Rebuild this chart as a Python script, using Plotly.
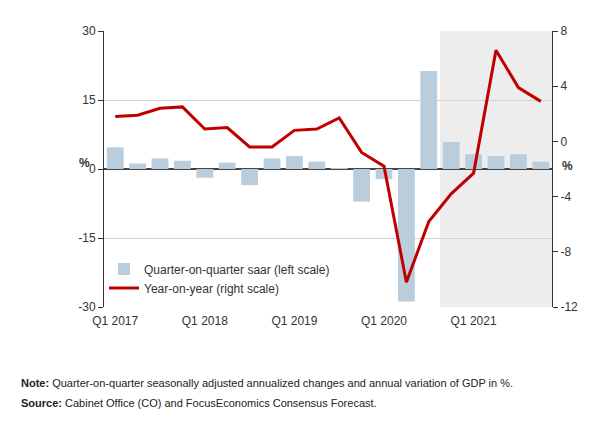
import plotly.graph_objects as go

quarters = [f"Q{q} {y}" for y in range(2017, 2022) for q in range(1, 5)]
qoq_saar = [4.7, 1.2, 2.3, 1.8, -1.9, 1.4, -3.5, 2.3, 2.8, 1.6,
            0.2, -7.1, -2.2, -28.8, 21.3, 5.9, 3.2, 2.8, 3.2, 1.6]
yoy = [1.8, 1.9, 2.4, 2.5, 0.9, 1.0, -0.4, -0.4, 0.8, 0.9,
       1.7, -0.8, -1.8, -10.2, -5.8, -3.8, -2.3, 6.6, 3.9, 2.9]
tick_labels = ["Q1 2017", "Q1 2018", "Q1 2019", "Q1 2020", "Q1 2021"]
left_ticks = [-30, -15, 0, 15, 30]
right_ticks = [-12, -8, -4, 0, 4, 8]
forecast_start = "Q4 2020"

font = "Liberation Sans, Arial, sans-serif"
txt = "#333333"

fig = go.Figure()

fig.add_trace(go.Bar(
    x=quarters, y=qoq_saar,
    name="Quarter-on-quarter saar (left scale)",
    marker=dict(color="#b9cddd", line=dict(width=0)),
))
fig.add_trace(go.Scatter(
    x=quarters, y=yoy, yaxis="y2",
    mode="lines",
    name="Year-on-year (right scale)",
    line=dict(color="#c00000", width=3),
))

# forecast shading
fs = quarters.index(forecast_start) - 0.5
fig.add_shape(type="rect", xref="x", yref="paper",
              x0=fs, x1=len(quarters) - 0.5, y0=0, y1=1,
              fillcolor="#ededed", line=dict(width=0), layer="between")

fig.update_layout(
    width=598, height=427,
    margin=dict(l=104, r=46, t=31, b=120),
    paper_bgcolor="white", plot_bgcolor="white",
    font=dict(family=font, size=12, color=txt),
    bargap=0.25,
    showlegend=True,
    legend=dict(x=0.0, y=0.19, xanchor="left", yanchor="top",
                bgcolor="rgba(0,0,0,0)", font=dict(size=12, color=txt)),
    xaxis=dict(
        type="category", range=[-0.5, len(quarters) - 0.5],
        tickvals=tick_labels, ticktext=tick_labels,
        showgrid=False, ticks="", showline=False,
        ticklabelstandoff=5,
        tickfont=dict(size=12, color=txt),
    ),
    yaxis=dict(
        range=[-30, 30], tickvals=left_ticks,
        ticktext=[str(v) for v in left_ticks],
        showgrid=True, gridcolor="#d4d4d4", gridwidth=1,
        zeroline=True, zerolinecolor="#444444", zerolinewidth=1.5,
        showline=True, linecolor="#333333", linewidth=1,
        ticks="outside", ticklen=5, tickcolor="#333333",
        tickfont=dict(size=12, color=txt),
    ),
    yaxis2=dict(
        range=[-12, 8], tickvals=right_ticks,
        ticktext=[str(v) for v in right_ticks],
        overlaying="y", side="right", anchor="x",
        showgrid=False, zeroline=False,
        showline=True, linecolor="#333333", linewidth=1,
        ticks="outside", ticklen=5, tickcolor="#333333",
        tickfont=dict(size=12, color=txt),
    ),
)

fig.add_annotation(text="<b>%</b>", xref="paper", yref="y", x=-0.026, y=0,
                   xanchor="right", yanchor="middle", yshift=6,
                   showarrow=False, font=dict(size=12, color=txt))
fig.add_annotation(text="<b>%</b>", xref="paper", yref="y", x=1.018, y=0,
                   xanchor="left", yanchor="middle", yshift=3,
                   showarrow=False, font=dict(size=12, color=txt))

fig.add_annotation(
    text="<b>Note:</b> Quarter-on-quarter seasonally adjusted annualized changes and annual variation of GDP in %.",
    xref="paper", yref="paper", x=-0.19, y=-0.275, xanchor="left", yanchor="middle",
    showarrow=False, font=dict(size=11, color="#222222"))
fig.add_annotation(
    text="<b>Source:</b> Cabinet Office (CO) and FocusEconomics Consensus Forecast.",
    xref="paper", yref="paper", x=-0.19, y=-0.347, xanchor="left", yanchor="middle",
    showarrow=False, font=dict(size=11, color="#222222"))

fig.write_html("out.html", config={"displayModeBar": False},
               post_script="document.body.style.margin='0px';")
